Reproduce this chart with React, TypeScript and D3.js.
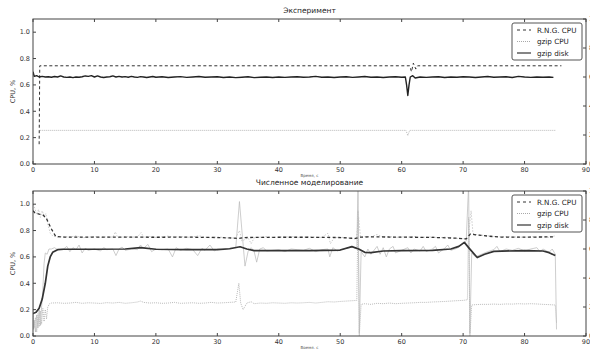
import * as d3 from 'd3'

type Pt = [number, number]

// shared axes
const xTicks = [0, 10, 20, 30, 40, 50, 60, 70, 80, 90]
const yTicks = [0, 0.2, 0.4, 0.6, 0.8, 1.0]
const rightTicks = [0, 20, 40, 60, 80, 100]
const rightLabels = ['0', '20', '40', '60', '80', '100']
const legendNames = ['R.N.G. CPU', 'gzip CPU', 'gzip disk']

// top panel: "Эксперимент"
const topRng: Pt[] = [[1.0, 0.15], [1.1, 0.745], [61.3, 0.745], [61.6, 0.7], [61.9, 0.765], [62.3, 0.72], [62.6, 0.745], [86, 0.745]]
const topCpu: Pt[] = [[1.1, 0.255], [60.7, 0.255], [61, 0.215], [61.3, 0.255], [85, 0.255]]
const topDisk: Pt[] = [
    [0, 0.7], [0.2, 0.665], [0.6, 0.67], [1, 0.66], [1.5, 0.665], [2, 0.66], [2.5, 0.662], [3, 0.658], [3.5, 0.664], [4, 0.66],
    [4.5, 0.668], [5, 0.66], [5.5, 0.657], [6, 0.66], [6.5, 0.655], [7, 0.66], [7.5, 0.658], [8, 0.662], [8.5, 0.668], [9, 0.665],
    [9.5, 0.67], [10, 0.66], [10.5, 0.668], [11, 0.66], [11.5, 0.656], [12, 0.66], [12.5, 0.662], [13, 0.668], [13.5, 0.66], [14, 0.665],
    [14.5, 0.66], [15, 0.663], [15.5, 0.658], [16, 0.665], [16.5, 0.66], [17, 0.657], [17.5, 0.663], [18, 0.66], [18.5, 0.656], [19, 0.66],
    [19.5, 0.664], [20, 0.658], [21, 0.662], [22, 0.656], [23, 0.66], [24, 0.663], [25, 0.657], [26, 0.66], [27, 0.664], [28, 0.658],
    [29, 0.66], [30, 0.662], [31, 0.656], [32, 0.66], [33, 0.655], [34, 0.658], [35, 0.662], [36, 0.655], [37, 0.658], [38, 0.66],
    [39, 0.656], [40, 0.66], [41, 0.657], [42, 0.66], [43, 0.662], [44, 0.658], [45, 0.66], [46, 0.665], [47, 0.658], [48, 0.66],
    [49, 0.656], [50, 0.66], [51, 0.662], [52, 0.657], [53, 0.66], [54, 0.664], [55, 0.658], [56, 0.66], [57, 0.656], [58, 0.66],
    [59, 0.662], [60, 0.658], [60.6, 0.66], [60.8, 0.6], [61, 0.52], [61.2, 0.6], [61.4, 0.66], [61.8, 0.67], [62.2, 0.652], [63, 0.66],
    [64, 0.657], [65, 0.66], [66, 0.662], [67, 0.656], [68, 0.66], [69, 0.658], [70, 0.662], [71, 0.66], [72, 0.656], [73, 0.66],
    [74, 0.664], [75, 0.658], [76, 0.66], [77, 0.662], [78, 0.656], [79, 0.665], [80, 0.66], [81, 0.657], [82, 0.66], [83, 0.658],
    [84, 0.66], [84.7, 0.657],
]

// bottom panel: "Численное моделирование"
const botRngSmooth: Pt[] = [
    [0, 0.95], [0.3, 0.935], [1, 0.925], [1.6, 0.92], [2.2, 0.89], [2.9, 0.82], [3.7, 0.755], [5, 0.75], [10, 0.75], [15, 0.75],
    [20, 0.749], [25, 0.75], [30, 0.747], [32, 0.744], [33.5, 0.74], [34.5, 0.747], [40, 0.749], [45, 0.749], [50, 0.747], [52.5, 0.74],
    [53.3, 0.75], [55, 0.752], [60, 0.75], [65, 0.748], [69, 0.742], [70.5, 0.737], [71.2, 0.775], [72, 0.768], [74, 0.758], [76, 0.75],
    [80, 0.75], [85, 0.752],
]
const botRngRaw: Pt[] = [
    [0, 1.0], [0.3, 0.97], [0.6, 0.92], [0.9, 0.96], [1.2, 0.9], [1.5, 0.95], [1.8, 0.91], [2.1, 0.93], [2.4, 0.85], [2.8, 0.78],
    [3.2, 0.76], [4, 0.75], [5, 0.755], [6, 0.75], [7, 0.76], [8, 0.745], [9, 0.75], [10, 0.755], [11, 0.748], [12, 0.752],
    [13, 0.75], [13.4, 0.79], [13.8, 0.745], [15, 0.755], [16, 0.75], [17, 0.752], [17.6, 0.785], [18, 0.75], [19, 0.755], [20, 0.748],
    [21, 0.752], [22, 0.758], [23, 0.75], [24, 0.755], [25, 0.748], [26, 0.752], [27, 0.76], [28, 0.75], [29, 0.745], [30, 0.752],
    [31, 0.748], [32, 0.742], [33, 0.745], [33.6, 0.8], [34, 0.72], [35, 0.745], [35.5, 0.7], [36, 0.745], [37, 0.75], [38, 0.755],
    [39, 0.748], [40, 0.752], [41, 0.75], [42, 0.755], [43, 0.748], [44, 0.75], [45, 0.752], [46, 0.75], [47, 0.748], [48, 0.78],
    [48.4, 0.7], [49, 0.745], [50, 0.75], [51, 0.745], [52, 0.74], [52.6, 0.735], [53, 0.9], [53.3, 0.75], [54, 0.755], [55, 0.752],
    [56, 0.77], [57, 0.75], [58, 0.755], [59, 0.748], [60, 0.752], [61, 0.75], [62, 0.755], [63, 0.748], [64, 0.75], [65, 0.752],
    [66, 0.745], [67, 0.75], [68, 0.745], [69, 0.74], [70, 0.738], [70.8, 0.735], [71.3, 0.95], [71.6, 0.78], [72, 0.77], [73, 0.765],
    [74, 0.76], [75, 0.755], [76, 0.752], [77, 0.755], [78, 0.75], [79, 0.752], [80, 0.748], [81, 0.755], [82, 0.75], [83, 0.752],
    [84, 0.748], [85, 0.76],
]
const botCpuRaw: Pt[] = [
    [0, 0.2], [0.2, 0.06], [0.4, 0.14], [0.6, 0.03], [0.8, 0.17], [1.0, 0.07], [1.2, 0.19], [1.4, 0.09], [1.6, 0.21], [1.8, 0.11],
    [2.0, 0.2], [2.2, 0.13], [2.4, 0.22], [2.7, 0.245], [3, 0.25], [4, 0.252], [5, 0.248], [6, 0.25], [7, 0.255], [8, 0.248],
    [9, 0.252], [10, 0.25], [11, 0.247], [12, 0.253], [13, 0.25], [14, 0.255], [15, 0.248], [16, 0.252], [17, 0.258], [17.5, 0.265],
    [18, 0.255], [19, 0.25], [20, 0.252], [21, 0.248], [22, 0.25], [23, 0.255], [24, 0.248], [25, 0.25], [26, 0.252], [27, 0.248],
    [28, 0.25], [29, 0.255], [30, 0.25], [31, 0.252], [32, 0.255], [33, 0.258], [33.5, 0.4], [33.8, 0.25], [34.2, 0.2], [34.8, 0.25],
    [35.5, 0.26], [36, 0.245], [37, 0.25], [38, 0.248], [39, 0.252], [40, 0.25], [41, 0.248], [42, 0.252], [43, 0.25], [44, 0.252],
    [45, 0.255], [46, 0.25], [47, 0.255], [48, 0.26], [49, 0.258], [50, 0.262], [51, 0.265], [52, 0.268], [52.7, 0.27], [52.9, 0.95],
    [53.1, 0.0], [53.4, 0.24], [54, 0.245], [55, 0.24], [56, 0.248], [57, 0.245], [58, 0.25], [59, 0.245], [60, 0.248], [61, 0.25],
    [62, 0.252], [63, 0.255], [64, 0.255], [65, 0.258], [66, 0.26], [67, 0.262], [68, 0.265], [69, 0.268], [70, 0.27], [70.7, 0.275],
    [70.9, 0.9], [71.1, 0.0], [71.4, 0.235], [72, 0.238], [73, 0.24], [74, 0.24], [75, 0.242], [76, 0.24], [77, 0.243], [78, 0.242],
    [79, 0.245], [80, 0.243], [81, 0.245], [82, 0.243], [83, 0.24], [84, 0.238], [85, 0.235], [85.2, 0.1],
]
const botDiskRaw: Pt[] = [
    [0, 0.62], [0.05, 0.05], [0.2, 0.12], [0.4, 0.03], [0.6, 0.16], [0.8, 0.06], [1.0, 0.2], [1.2, 0.08], [1.4, 0.22], [1.6, 0.35],
    [1.8, 0.55], [2.0, 0.63], [2.3, 0.62], [2.6, 0.66], [3, 0.66], [3.5, 0.67], [4, 0.655], [5, 0.66], [5.5, 0.68], [6, 0.64],
    [6.5, 0.67], [7, 0.655], [7.5, 0.69], [8, 0.63], [8.5, 0.665], [9, 0.65], [10, 0.66], [11, 0.645], [11.5, 0.67], [12, 0.655],
    [13, 0.66], [13.5, 0.61], [14, 0.66], [14.5, 0.675], [15, 0.65], [16, 0.66], [17, 0.655], [17.5, 0.69], [18, 0.665], [18.7, 0.695],
    [19.3, 0.64], [20, 0.66], [21, 0.655], [22, 0.66], [22.7, 0.6], [23.3, 0.67], [24, 0.65], [25, 0.665], [26, 0.655], [26.8, 0.61],
    [27.5, 0.665], [28, 0.65], [28.8, 0.69], [29.5, 0.645], [30, 0.66], [31, 0.655], [32, 0.665], [33, 0.67], [33.6, 1.02], [34, 0.8],
    [34.5, 0.53], [35, 0.64], [35.5, 0.67], [36, 0.64], [36.4, 0.56], [36.9, 0.66], [37.5, 0.67], [38, 0.645], [39, 0.65], [40, 0.655],
    [41, 0.64], [42, 0.66], [43, 0.655], [44, 0.65], [45, 0.665], [46, 0.64], [47, 0.655], [48, 0.66], [48.3, 0.6], [48.8, 0.67],
    [49.5, 0.645], [50, 0.655], [51, 0.665], [52, 0.675], [52.7, 0.66], [52.9, 1.15], [53.1, 0.02], [53.4, 0.64], [54, 0.6], [54.5, 0.66],
    [55, 0.62], [56, 0.68], [56.5, 0.62], [57, 0.67], [57.5, 0.6], [58, 0.66], [58.6, 0.68], [59, 0.63], [60, 0.65], [61, 0.67],
    [61.5, 0.63], [62, 0.66], [63, 0.645], [63.5, 0.68], [64, 0.64], [65, 0.66], [65.5, 0.68], [66, 0.63], [67, 0.665], [67.5, 0.69],
    [68, 0.65], [69, 0.665], [70, 0.7], [70.5, 0.72], [70.9, 1.15], [71.1, 0.02], [71.4, 0.63], [72, 0.6], [73, 0.62], [74, 0.64],
    [75, 0.655], [75.5, 0.68], [76, 0.64], [77, 0.66], [78, 0.65], [79, 0.665], [80, 0.645], [81, 0.66], [82, 0.67], [82.5, 0.64],
    [83, 0.66], [84, 0.635], [84.5, 0.66], [85, 0.62], [85.2, 0.05],
]
const botDiskSmooth: Pt[] = [
    [0, 0.17], [0.5, 0.18], [1, 0.21], [1.5, 0.28], [2, 0.4], [2.4, 0.53], [2.8, 0.6], [3.2, 0.635], [4, 0.655], [5, 0.658],
    [10, 0.658], [15, 0.66], [17.5, 0.67], [20, 0.658], [25, 0.655], [30, 0.655], [32, 0.662], [33.7, 0.677], [34.8, 0.66], [36, 0.648],
    [40, 0.647], [45, 0.648], [50, 0.652], [51.9, 0.678], [53, 0.66], [54, 0.635], [55, 0.632], [57, 0.645], [60, 0.647], [65, 0.65],
    [68, 0.66], [69.3, 0.68], [70.2, 0.71], [71, 0.665], [72.3, 0.595], [73.5, 0.62], [75, 0.642], [80, 0.648], [83, 0.645], [84, 0.632],
    [85, 0.61],
]

const W = 590
const H = 349
const left = 33
const right = 586
const font = 'DejaVu Sans, sans-serif'
const dark = '#333'
const light = '#a8a8a8'

type Series = { data: Pt[]; color: string; width: number; dash?: string }

function Panel({ id, top, bottom, title, series }: { id: string; top: number; bottom: number; title: string; series: Series[] }) {
    const x = d3.scaleLinear().domain([0, 90]).range([left, right])
    const y = d3.scaleLinear().domain([0, 1.1]).range([bottom, top])
    const yRight = d3.scaleLinear().domain([0, 100]).range([bottom, top])
    const line = d3
        .line<Pt>()
        .x((d) => x(d[0]))
        .y((d) => y(d[1]))

    const legendX = 512
    const legendY = top + 4

    return (
        <g>
            <defs>
                <clipPath id={id}>
                    <rect x={left} y={top} width={right - left} height={bottom - top} />
                </clipPath>
            </defs>
            <text x={(left + right) / 2} y={top - 6} textAnchor="middle" fontSize="7.5" fontFamily={font} fill="#222">
                {title}
            </text>
            <g clipPath={`url(#${id})`}>
                {series.map((s, i) => (
                    <path key={i} d={line(s.data) ?? ''} fill="none" stroke={s.color} strokeWidth={s.width} strokeDasharray={s.dash} strokeLinejoin="round" />
                ))}
            </g>
            <rect x={left} y={top} width={right - left} height={bottom - top} fill="none" stroke="#444" strokeWidth="1" />
            {xTicks.map((t) => (
                <g key={t}>
                    <line x1={x(t)} x2={x(t)} y1={bottom} y2={bottom - 3} stroke="#444" />
                    <line x1={x(t)} x2={x(t)} y1={top} y2={top + 3} stroke="#444" />
                    <text x={x(t)} y={bottom + 8} textAnchor="middle" fontSize="6.5" fontFamily={font} fill="#333">
                        {t}
                    </text>
                </g>
            ))}
            {yTicks.map((t) => (
                <g key={t}>
                    <line x1={left} x2={left + 3} y1={y(t)} y2={y(t)} stroke="#444" />
                    <text x={left - 3} y={y(t) + 2.3} textAnchor="end" fontSize="6.5" fontFamily={font} fill="#333">
                        {t.toFixed(1)}
                    </text>
                </g>
            ))}
            {/* twin axis on the right: labels run off the page edge as in the original */}
            {rightTicks.map((t, i) => (
                <g key={t}>
                    <line x1={right} x2={right - 3} y1={yRight(t)} y2={yRight(t)} stroke="#444" />
                    <text x={right + 3} y={yRight(t) + 2.3} fontSize="6.5" fontFamily={font} fill="#333">
                        {rightLabels[i]}
                    </text>
                </g>
            ))}
            <text transform={`translate(15, ${(top + bottom) / 2}) rotate(-90)`} textAnchor="middle" fontSize="6.5" fontFamily={font} fill="#333">
                CPU, %
            </text>
            <text x={(left + right) / 2} y={bottom + 13} textAnchor="middle" fontSize="4" fontFamily={font} fill="#555">
                Время, с
            </text>
            <rect x={legendX} y={legendY} width={70} height={37} rx={2} fill="#fff" stroke="#555" strokeWidth="1" />
            {legendNames.map((name, i) => {
                const ly = legendY + 7 + i * 11.5
                const styles = [
                    { color: dark, dash: '3,3', width: 1 },
                    { color: light, dash: '1,1', width: 1 },
                    { color: dark, dash: undefined, width: 1.2 },
                ]
                const st = styles[i]
                return (
                    <g key={name}>
                        <line x1={legendX + 5} x2={legendX + 19} y1={ly} y2={ly} stroke={st.color} strokeWidth={st.width} strokeDasharray={st.dash} />
                        <text x={legendX + 25} y={ly + 2.5} fontSize="7.2" fontFamily={font} fill="#222">
                            {name}
                        </text>
                    </g>
                )
            })}
        </g>
    )
}

export default function App() {
    const topSeries: Series[] = [
        { data: topCpu, color: light, width: 0.8, dash: '1,1' },
        { data: topRng, color: dark, width: 1, dash: '3,2.5' },
        { data: topDisk, color: '#222', width: 1.4 },
    ]
    const bottomSeries: Series[] = [
        { data: botCpuRaw, color: light, width: 0.8, dash: '1,1' },
        { data: botRngRaw, color: '#b8b8b8', width: 0.7, dash: '1.5,1.5' },
        { data: botDiskRaw, color: '#b8b8b8', width: 0.7 },
        { data: botRngSmooth, color: dark, width: 1.3, dash: '3,2.5' },
        { data: botDiskSmooth, color: dark, width: 1.7 },
    ]
    return (
        <svg width={W} height={H} style={{ position: 'absolute', left: 0, top: 0, background: '#fff' }}>
            <Panel id="clipTop" top={19} bottom={164} title="Эксперимент" series={topSeries} />
            <Panel id="clipBottom" top={191} bottom={336} title="Численное моделирование" series={bottomSeries} />
        </svg>
    )
}
